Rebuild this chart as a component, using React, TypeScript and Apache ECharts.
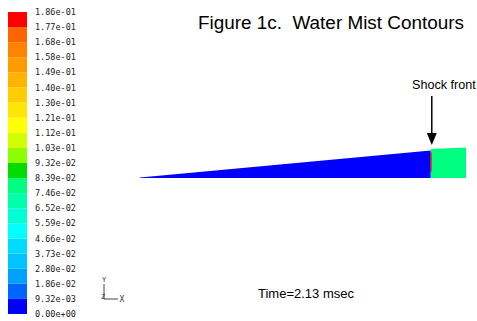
import React, { useEffect, useRef } from 'react';
import * as echarts from 'echarts';

// Contour legend tick labels (bottom -> top), 21 level boundaries, 20 bands
const legendTicks = [
  '0.00e+00', '9.32e-03', '1.86e-02', '2.80e-02', '3.73e-02', '4.66e-02',
  '5.59e-02', '6.52e-02', '7.46e-02', '8.39e-02', '9.32e-02', '1.03e-01',
  '1.12e-01', '1.21e-01', '1.30e-01', '1.40e-01', '1.49e-01', '1.58e-01',
  '1.68e-01', '1.77e-01', '1.86e-01',
];
// Band colours (bottom -> top), 20 bands
const bandColors = [
  '#0000FF', '#0064FF', '#00A0FF', '#00C3FF', '#00DCFF', '#00FFFF',
  '#00FFD4', '#00FFAA', '#00FF80', '#00DC00', '#8CFF00', '#D2FF00',
  '#FFFF00', '#FFE600', '#FFCD00', '#FFB400', '#FF9B00', '#FF8200',
  '#FF6400', '#FF0000',
];

// Flow-domain cells (normalised length units): blue mist region, shocked region, shock interface
const cellX0 = [0, 0.892, 0.8905];
const cellX1 = [0.892, 1.0, 0.8945];
const cellBottom = [0, 0, 0.019];
const cellTop0 = [0.0015, 0.089, 0.078];
const cellTop1 = [0.0845, 0.0936, 0.078];
const cellValue = [0.0, 0.078, 0.18];

const shockX = 0.892;
const domainXMax = 1.0;
const domainYMax = 0.1166;

const titleText = 'Figure 1c.  Water Mist Contours';
const timeText = 'Time=2.13 msec';
const shockText = 'Shock front';

const levels = legendTicks.map((t) => parseFloat(t));
function colorFor(v: number): string {
  for (let i = 0; i < levels.length - 1; i++) {
    if (v >= levels[i] && v < levels[i + 1]) return bandColors[i];
  }
  return v < levels[0] ? bandColors[0] : bandColors[bandColors.length - 1];
}

export default function App() {
  const ref = useRef<HTMLDivElement>(null);
  useEffect(() => {
    if (!ref.current) return;
    const chart = echarts.init(ref.current, undefined, { renderer: 'svg' });
    const cellData = cellX0.map((x0, i) => [x0, cellX1[i], cellBottom[i], cellTop0[i], cellTop1[i], cellValue[i]]);
    const legendData = bandColors.map((_, i) => [0, i]);
    chart.setOption({
      animation: false,
      backgroundColor: '#ffffff',
      grid: [
        { left: 140, right: 11, top: 140, bottom: 143 },
        { left: 8, width: 19, top: 12, height: 302 },
      ],
      xAxis: [
        { type: 'value', gridIndex: 0, min: 0, max: domainXMax, show: false },
        { type: 'value', gridIndex: 1, min: 0, max: 1, show: false },
      ],
      yAxis: [
        { type: 'value', gridIndex: 0, min: 0, max: domainYMax, show: false },
        {
          type: 'category', gridIndex: 1, data: legendTicks, boundaryGap: false,
          position: 'right',
          axisLine: { show: false }, axisTick: { show: false }, splitLine: { show: false },
          axisLabel: {
            interval: 0, margin: 8, color: '#222',
            fontFamily: 'DejaVu Sans Mono', fontSize: 8.5,
          },
        },
      ],
      series: [
        {
          type: 'custom', xAxisIndex: 0, yAxisIndex: 0, data: cellData,
          encode: { x: [0, 1], y: [2, 3, 4] },
          renderItem: (params: any, api: any) => {
            const x0 = api.value(0), x1 = api.value(1), b = api.value(2), t0 = api.value(3), t1 = api.value(4), v = api.value(5);
            const pts = [api.coord([x0, b]), api.coord([x1, b]), api.coord([x1, t1]), api.coord([x0, t0])];
            return { type: 'polygon', shape: { points: pts }, style: { fill: colorFor(v), stroke: null } };
          },
        },
        {
          type: 'custom', xAxisIndex: 1, yAxisIndex: 1, data: legendData,
          renderItem: (params: any, api: any) => {
            const i = api.value(1);
            const p1 = api.coord([0, i + 1]);
            const p2 = api.coord([1, i]);
            return {
              type: 'rect',
              shape: { x: p1[0], y: p1[1], width: p2[0] - p1[0], height: p2[1] - p1[1] },
              style: { fill: bandColors[i], stroke: null },
            };
          },
        },
      ],
    });
    const ax = chart.convertToPixel({ xAxisIndex: 0, yAxisIndex: 0 }, [shockX, 0])[0] + 1;
    chart.setOption({
      graphic: [
        { type: 'text', x: 198, y: 22, style: { text: titleText, fontFamily: 'Liberation Sans', fontSize: 18.9, fill: '#000', textVerticalAlign: 'middle' } },
        { type: 'text', x: 258, y: 293, style: { text: timeText, fontFamily: 'Liberation Sans', fontSize: 13, fill: '#000', textVerticalAlign: 'middle' } },
        { type: 'text', x: 412, y: 85, style: { text: shockText, fontFamily: 'Liberation Sans', fontSize: 12.6, fill: '#000', textVerticalAlign: 'middle' } },
        { type: 'line', shape: { x1: ax, y1: 96, x2: ax, y2: 135 }, style: { stroke: '#000', lineWidth: 1.5 } },
        { type: 'polygon', shape: { points: [[ax - 5, 133], [ax + 5, 133], [ax, 145]] }, style: { fill: '#000' } },
        // view triad
        { type: 'line', shape: { x1: 104, y1: 284, x2: 104, y2: 299 }, style: { stroke: '#444', lineWidth: 1 } },
        { type: 'line', shape: { x1: 104, y1: 299, x2: 118, y2: 299 }, style: { stroke: '#444', lineWidth: 1 } },
        { type: 'text', x: 104, y: 280, style: { text: 'Y', fontFamily: 'DejaVu Sans Mono', fontSize: 7, fill: '#333', textAlign: 'center', textVerticalAlign: 'middle' } },
        { type: 'text', x: 103, y: 297, style: { text: 'Z', fontFamily: 'DejaVu Sans Mono', fontSize: 7, fill: '#333', textAlign: 'center', textVerticalAlign: 'middle' } },
        { type: 'text', x: 122, y: 299, style: { text: 'X', fontFamily: 'DejaVu Sans Mono', fontSize: 8, fill: '#333', textAlign: 'center', textVerticalAlign: 'middle' } },
      ],
    });
    return () => chart.dispose();
  }, []);
  return <div ref={ref} style={{ position: 'absolute', left: 0, top: 0, width: 477, height: 321 }} />;
}
